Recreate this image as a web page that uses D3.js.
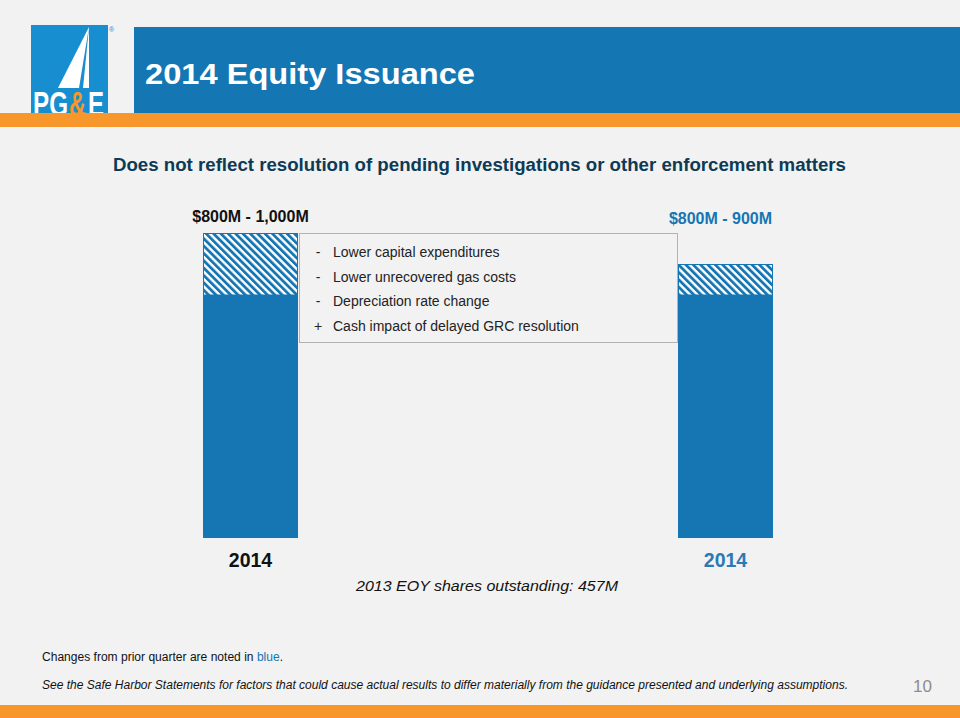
<!DOCTYPE html>
<html>
<head>
<meta charset="utf-8">
<script src="https://cdn.jsdelivr.net/npm/d3@7"></script>
<style>
  html, body { margin: 0; padding: 0; background: #f2f2f2; }
  svg { display: block; font-family: "Liberation Sans", Arial, sans-serif; }
</style>
</head>
<body>
<div id="okvir"></div>
<script>
// podaci
const kategorije = ["2014", "2014"];
const donjaGranica = [800, 800];
const gornjaGranica = [1000, 900];
const oznakeRaspona = ["$800M - 1,000M", "$800M - 900M"];
const promjena = [false, true];   // promjene od proslog kvartala su plave
const predznaci = ["-", "-", "-", "+"];
const razlozi = [
    "Lower capital expenditures",
    "Lower unrecovered gas costs",
    "Depreciation rate change",
    "Cash impact of delayed GRC resolution"
];

const plava = "#1676b4";
const narancasta = "#f7962a";

const sirina = 960, visina = 718;

const okvir = d3.select("#okvir")
    .append("svg")
        .attr("width", sirina)
        .attr("height", visina);

okvir.append("rect").attr("width", sirina).attr("height", visina).attr("fill", "#f2f2f2");

// zaglavlje
okvir.append("rect").attr("x", 134).attr("y", 27).attr("width", sirina - 134).attr("height", 86).attr("fill", "#1476b3");
okvir.append("text")
    .attr("x", 145).attr("y", 84)
    .attr("fill", "white")
    .attr("textLength", 330)
    .attr("lengthAdjust", "spacingAndGlyphs")
    .style("font-size", "30px")
    .style("font-weight", "bold")
    .text("2014 Equity Issuance");

// logo
const logo = okvir.append("g");
logo.append("rect").attr("x", 31).attr("y", 25).attr("width", 77).attr("height", 88).attr("fill", "#168ed0");
logo.append("path").attr("d", "M89,27 L58,88 L89,88 Z").attr("fill", "white");
logo.append("path").attr("d", "M89,27 L79,88 L83,88 Z").attr("fill", "#168ed0");
const slova = [["PG", 33, 35, "white"], ["&", 69, 17, narancasta], ["E", 88, 16, "white"]];
logo.append("g")
    .attr("transform", "translate(0,116) scale(1,1.5)")
    .selectAll("text.slovo")
    .data(slova)
    .join("text")
        .attr("class", "slovo")
        .attr("x", d => d[1]).attr("y", 0)
        .attr("fill", d => d[3])
        .attr("textLength", d => d[2])
        .attr("lengthAdjust", "spacingAndGlyphs")
        .style("font-size", "24px")
        .style("font-weight", "bold")
        .text(d => d[0]);
logo.append("text")
    .attr("x", 109).attr("y", 32)
    .attr("fill", "#168ed0")
    .style("font-size", "7px")
    .text("®");
okvir.append("rect").attr("x", 0).attr("y", 113).attr("width", sirina).attr("height", 14).attr("fill", narancasta);

// podnaslov
okvir.append("text")
    .attr("x", 113).attr("y", 171)
    .attr("fill", "#0d3b55")
    .attr("textLength", 733)
    .attr("lengthAdjust", "spacingAndGlyphs")
    .style("font-size", "18px")
    .style("font-weight", "bold")
    .text("Does not reflect resolution of pending investigations or other enforcement matters");

// iscrtkani uzorak
const defs = okvir.append("defs");
const uzorak = defs.append("pattern")
    .attr("id", "srafura")
    .attr("patternUnits", "userSpaceOnUse")
    .attr("width", 5.2).attr("height", 5.2)
    .attr("patternTransform", "rotate(-45)");
uzorak.append("rect").attr("width", 5.2).attr("height", 5.2).attr("fill", "white");
uzorak.append("rect").attr("width", 2.8).attr("height", 5.2).attr("fill", plava);

// skale
const dnoGrafa = 538;
const xSkala = d3.scaleBand()
    .domain(d3.range(kategorije.length))
    .range([203, 773])
    .paddingInner(0.8);

const ySkala = d3.scaleLinear()
    .domain([800, 1000])
    .range([295, 233]);

const granice = okvir.append("g");

const stupci = granice.selectAll("g.stupac")
    .data(d3.range(kategorije.length))
    .join("g")
        .attr("class", "stupac");

stupci.append("rect")
    .attr("x", i => xSkala(i))
    .attr("y", i => ySkala(donjaGranica[i]))
    .attr("width", xSkala.bandwidth())
    .attr("height", i => dnoGrafa - ySkala(donjaGranica[i]))
    .attr("fill", plava);

stupci.append("rect")
    .attr("x", i => xSkala(i) + 0.5)
    .attr("y", i => ySkala(gornjaGranica[i]) + 0.5)
    .attr("width", xSkala.bandwidth() - 1)
    .attr("height", i => ySkala(donjaGranica[i]) - ySkala(gornjaGranica[i]) - 0.5)
    .attr("fill", "url(#srafura)")
    .attr("stroke", plava)
    .attr("stroke-width", 1);

// oznake raspona
stupci.append("text")
    .attr("x", i => xSkala(i) + xSkala.bandwidth() / 2 - (promjena[i] ? 5 : 0))
    .attr("y", i => promjena[i] ? 224 : 222)
    .attr("text-anchor", "middle")
    .attr("fill", i => promjena[i] ? plava : "#111")
    .style("font-size", "16px")
    .style("font-weight", "bold")
    .text(i => oznakeRaspona[i]);

// kategorije
stupci.append("text")
    .attr("x", i => xSkala(i) + xSkala.bandwidth() / 2)
    .attr("y", 567)
    .attr("text-anchor", "middle")
    .attr("fill", i => promjena[i] ? "#2a7ab5" : "#111")
    .style("font-size", "19.5px")
    .style("font-weight", "bold")
    .text(i => kategorije[i]);

// okvir s razlozima
const kutija = granice.append("g");
kutija.append("rect")
    .attr("x", 299.5).attr("y", 233.5)
    .attr("width", 378).attr("height", 109)
    .attr("fill", "#f2f2f2")
    .attr("stroke", "#b3b3b3")
    .attr("stroke-width", 1);

const redovi = kutija.selectAll("g.red")
    .data(razlozi)
    .join("g")
        .attr("class", "red")
        .attr("transform", (d, i) => `translate(0, ${257 + i * 24.5})`);

redovi.append("text")
    .attr("x", 318)
    .attr("text-anchor", "middle")
    .attr("fill", "#222")
    .style("font-size", "14px")
    .text((d, i) => predznaci[i]);

redovi.append("text")
    .attr("x", 333)
    .attr("fill", "#222")
    .style("font-size", "14px")
    .text(d => d);

okvir.append("text")
    .attr("x", 487).attr("y", 591)
    .attr("text-anchor", "middle")
    .attr("fill", "#111")
    .attr("textLength", 262)
    .attr("lengthAdjust", "spacingAndGlyphs")
    .style("font-size", "15px")
    .style("font-style", "italic")
    .text("2013 EOY shares outstanding: 457M");

// podnozje
okvir.append("text")
    .attr("x", 42).attr("y", 661)
    .attr("fill", "#111")
    .attr("textLength", 241)
    .attr("lengthAdjust", "spacingAndGlyphs")
    .style("font-size", "12px")
    .html('Changes from prior quarter are noted in <tspan fill="' + plava + '">blue</tspan>.');

okvir.append("text")
    .attr("x", 42).attr("y", 689)
    .attr("fill", "#111")
    .attr("textLength", 806)
    .attr("lengthAdjust", "spacingAndGlyphs")
    .style("font-size", "12px")
    .style("font-style", "italic")
    .text("See the Safe Harbor Statements for factors that could cause actual results to differ materially from the guidance presented and underlying assumptions.");

okvir.append("text")
    .attr("x", 932).attr("y", 692)
    .attr("text-anchor", "end")
    .attr("fill", "#8c8c8c")
    .style("font-size", "17px")
    .text("10");

okvir.append("rect").attr("x", 0).attr("y", 705).attr("width", sirina).attr("height", 13).attr("fill", narancasta);
</script>
</body>
</html>
